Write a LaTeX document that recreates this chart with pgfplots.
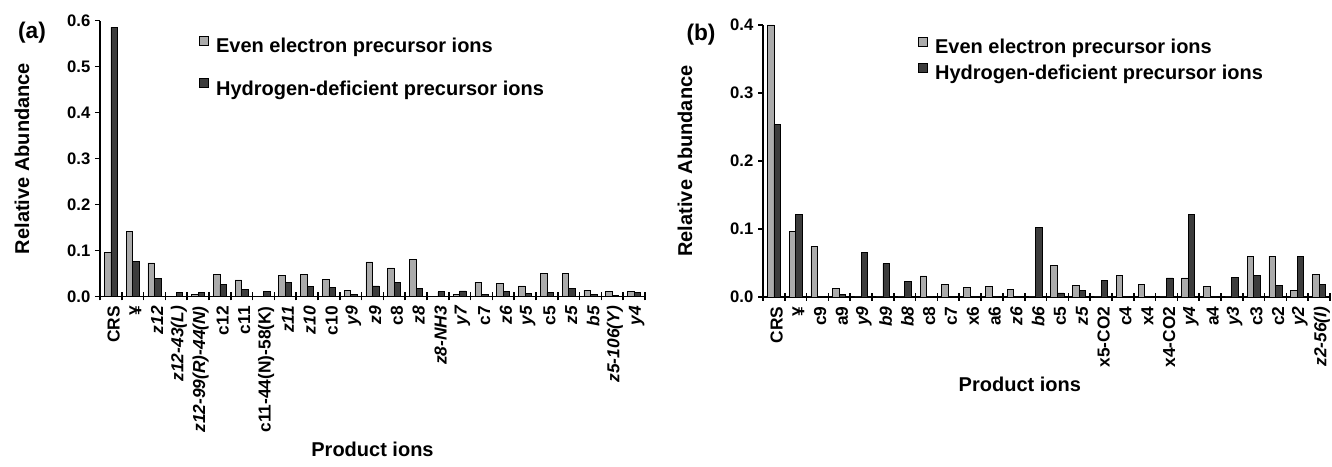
\documentclass[border=0pt]{standalone}
\usepackage{fontspec}
\setmainfont{Liberation Sans}
\usepackage{pgfplots}
\pgfplotsset{compat=1.18}
\usepackage{pgfplotstable}

\definecolor{lightbar}{HTML}{ABABAB}
\definecolor{darkbar}{HTML}{3C3C3C}

\pgfplotstableread{
idx even hd
0 0.096 0.585
1 0.141 0.077
2 0.073 0.040
3 0.000 0.009
4 0.004 0.009
5 0.047 0.026
6 0.036 0.016
7 0.000 0.011
8 0.045 0.031
9 0.047 0.021
10 0.038 0.019
11 0.014 0.005
12 0.075 0.023
13 0.062 0.031
14 0.080 0.018
15 0.000 0.010
16 0.005 0.012
17 0.031 0.005
18 0.029 0.010
19 0.023 0.007
20 0.050 0.008
21 0.050 0.018
22 0.014 0.005
23 0.010 0.003
24 0.010 0.009
}\tableA

\pgfplotstableread{
idx even hd
0 0.400 0.254
1 0.096 0.122
2 0.074 0.000
3 0.012 0.004
4 0.000 0.066
5 0.000 0.049
6 0.000 0.023
7 0.031 0.000
8 0.018 0.000
9 0.014 0.000
10 0.015 0.000
11 0.011 0.000
12 0.000 0.102
13 0.047 0.006
14 0.017 0.009
15 0.000 0.024
16 0.032 0.000
17 0.019 0.000
18 0.000 0.028
19 0.028 0.122
20 0.015 0.000
21 0.000 0.029
22 0.059 0.032
23 0.060 0.017
24 0.010 0.060
25 0.033 0.019
}\tableB

\newcommand{\tlfont}{\bfseries\fontsize{13}{14}\selectfont}
\newcommand{\ytlfont}{\bfseries\fontsize{12.5}{14}\selectfont}
\newcommand{\bigfont}{\bfseries\fontsize{15}{17}\selectfont}

\pgfplotsset{
  panel/.style={
    scale only axis,
    anchor=south west,
    axis lines=left,
    axis line style={-, line width=1.4pt},
    ybar=0pt, bar width=4.9pt,
    ymin=0,
    tick align=outside,
    major tick length=3.75pt,
    minor tick length=6pt,
    every tick/.style={black, line width=1.2pt},
    major x tick style={draw=none},
    minor x tick style={yshift=3pt},
    y tick label style={font=\ytlfont},
    x tick label style={font=\tlfont, rotate=90, anchor=east, yshift=-2pt},
    /pgf/number format/.cd, fixed, fixed zerofill, precision=1, assume math mode=true,
    /pgfplots/.cd,
    every axis y label/.style={at={(axis description cs:0,0.5)}, xshift=-58.5pt, rotate=90, anchor=center, font=\bigfont},
    xlabel style={font=\bigfont},
    legend cell align=left,
    legend style={draw=none, fill=none, inner sep=0pt, font=\bigfont,
      nodes={inner sep=0pt},
      /tikz/every odd column/.append style={column sep=5.25pt}},
    legend image code/.code={\draw[##1, line width=0.6pt] (0pt,1pt) rectangle (6.75pt,7.75pt);},
    every axis plot/.append style={draw=black, line width=0.6pt},
  }
}

\begin{document}
\begin{tikzpicture}
\useasboundingbox (0,0) rectangle (999pt,350.25pt);

\begin{axis}[panel,
  at={(75pt,127.875pt)},
  width=408.75pt, height=207pt,
  xmin=-0.5, xmax=24.5, ymax=0.6,
  ytick={0,0.1,0.2,0.3,0.4,0.5,0.6},
  xtick={0,...,24},
  minor xtick={-0.5,0.5,...,24.5},
  xticklabels={CRS,¥,{\itshape z12},{\itshape z12-43(L)},{\itshape z12-99(R)-44(N)},c12,c11,c11-44(N)-58(K),{\itshape z11},{\itshape z10},c10,{\itshape y9},{\itshape z9},c8,{\itshape z8},{\itshape z8-NH3},{\itshape y7},c7,{\itshape z6},{\itshape y5},c5,{\itshape z5},{\itshape b5},{\itshape z5-106(Y)},{\itshape y4}},
  ylabel={Relative Abundance},
  xlabel={Product ions},
  legend style={at={(axis description cs:0.1817,0.945)}, anchor=north west, row sep=17.5pt},
]
\addplot[fill=lightbar] table[x=idx,y=even]{\tableA};
\addlegendentry{Even electron precursor ions}
\addplot[fill=darkbar] table[x=idx,y=hd]{\tableA};
\addlegendentry{Hydrogen-deficient precursor ions}
\end{axis}

\begin{axis}[panel,
  at={(572.25pt,127.5pt)},
  width=425.25pt, height=204pt,
  xmin=-0.5, xmax=25.5, ymax=0.4,
  ytick={0,0.1,0.2,0.3,0.4},
  xtick={0,...,25},
  minor xtick={-0.5,0.5,...,25.5},
  xticklabels={CRS,¥,c9,a9,{\itshape y9},{\itshape b9},{\itshape b8},c8,c7,x6,a6,{\itshape z6},{\itshape b6},c5,{\itshape z5},x5-CO2,c4,x4,x4-CO2,{\itshape y4},a4,{\itshape y3},c3,c2,{\itshape y2},{\itshape z2-56(I)}},
  ylabel={Relative Abundance},
  xlabel={Product ions},
  xlabel style={xshift=-20pt},
  legend style={at={(axis description cs:0.2734,0.957)}, anchor=north west, row sep=5pt},
]
\addplot[fill=lightbar] table[x=idx,y=even]{\tableB};
\addlegendentry{Even electron precursor ions}
\addplot[fill=darkbar] table[x=idx,y=hd]{\tableB};
\addlegendentry{Hydrogen-deficient precursor ions}
\end{axis}

\node[font=\bfseries\fontsize{17}{20}\selectfont] at (24pt,325.5pt) {(a)};
\node[font=\bfseries\fontsize{17}{20}\selectfont] at (525.75pt,324pt) {(b)};
\end{tikzpicture}
\end{document}
